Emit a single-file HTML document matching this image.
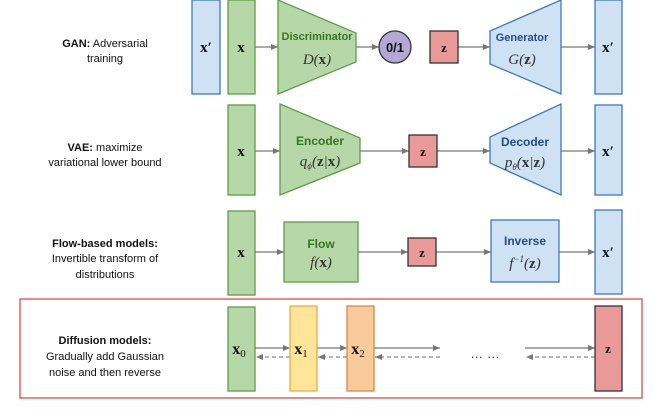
<!DOCTYPE html>
<html><head><meta charset="utf-8"><style>
body{margin:0;background:#fff;width:653px;height:408px;overflow:hidden}
svg text{font-family:"Liberation Sans",sans-serif}
svg .m, svg .m text, svg text.m{font-family:"Liberation Serif",serif}
</style></head><body>
<svg width="653" height="408" viewBox="0 0 653 408" xmlns="http://www.w3.org/2000/svg">
<defs>
<marker id="a" markerWidth="8" markerHeight="8" refX="7" refY="4" orient="auto" markerUnits="userSpaceOnUse"><path d="M0,1 L7,4 L0,7z" fill="#777"/></marker>
</defs>
<g font-size="11" fill="#111" text-anchor="middle">
<text x="105" y="47"><tspan font-weight="bold">GAN:</tspan> Adversarial</text>
<text x="105" y="62">training</text>
<text x="105" y="151"><tspan font-weight="bold">VAE:</tspan> maximize</text>
<text x="105" y="166">variational lower bound</text>
<text x="105" y="247" font-weight="bold">Flow-based models:</text>
<text x="105" y="262">Invertible transform of</text>
<text x="105" y="278">distributions</text>
<text x="105" y="344" font-weight="bold">Diffusion models:</text>
<text x="105" y="360">Gradually add Gaussian</text>
<text x="105" y="376">noise and then reverse</text>
</g>
<g stroke="#777" stroke-width="1.2" marker-end="url(#a)">
<line x1="255" y1="47" x2="278" y2="47"/><line x1="356" y1="47" x2="379" y2="47"/>
<line x1="458" y1="47" x2="490" y2="47"/><line x1="561" y1="47" x2="595" y2="47"/>
<line x1="255" y1="151" x2="280" y2="151"/><line x1="360" y1="151" x2="409" y2="151"/>
<line x1="437" y1="151" x2="490" y2="151"/><line x1="561" y1="151" x2="595" y2="151"/>
<line x1="255" y1="252" x2="284" y2="252"/><line x1="358" y1="252" x2="408" y2="252"/>
<line x1="436" y1="252" x2="491" y2="252"/><line x1="559" y1="252" x2="595" y2="252"/>
<line x1="255" y1="348" x2="290" y2="348"/><line x1="317" y1="348" x2="347" y2="348"/>
<line x1="374" y1="348" x2="440" y2="348"/><line x1="525" y1="348" x2="595" y2="348"/>
</g>
<g stroke="#888" stroke-width="1.2" stroke-dasharray="4,3" marker-end="url(#a)">
<line x1="290" y1="357" x2="256" y2="357"/><line x1="347" y1="357" x2="318" y2="357"/>
<line x1="440" y1="357" x2="375" y2="357"/><line x1="595" y1="357" x2="526" y2="357"/>
</g>
<rect x="192" y="0" width="28" height="94" fill="#cfe2f3" stroke="#3d78c1" stroke-width="1.3"/>
<rect x="228" y="0" width="27" height="94" fill="#b6d7a8" stroke="#5c9e48" stroke-width="1.3"/>
<polygon points="278,0 356,33 356,62 278,94" fill="#b6d7a8" stroke="#5c9e48" stroke-width="1.3"/>
<circle cx="395" cy="47" r="16" fill="#b4a7d6" stroke="#333" stroke-width="1.3"/>
<rect x="430" y="31" width="28" height="32" fill="#ea9999" stroke="#333" stroke-width="1.3"/>
<polygon points="490,31 561,0 561,94 490,64" fill="#cfe2f3" stroke="#3d78c1" stroke-width="1.3"/>
<rect x="595" y="0" width="27" height="94" fill="#cfe2f3" stroke="#3d78c1" stroke-width="1.3"/>
<rect x="228" y="105" width="27" height="90" fill="#b6d7a8" stroke="#5c9e48" stroke-width="1.3"/>
<polygon points="280,104 360,138 360,163 280,195" fill="#b6d7a8" stroke="#5c9e48" stroke-width="1.3"/>
<rect x="409" y="135" width="28" height="32" fill="#ea9999" stroke="#333" stroke-width="1.3"/>
<polygon points="490,137 561,104 561,195 490,163" fill="#cfe2f3" stroke="#3d78c1" stroke-width="1.3"/>
<rect x="595" y="105" width="27" height="90" fill="#cfe2f3" stroke="#3d78c1" stroke-width="1.3"/>
<rect x="228" y="211" width="27" height="84" fill="#b6d7a8" stroke="#5c9e48" stroke-width="1.3"/>
<rect x="284" y="222" width="74" height="60" fill="#b6d7a8" stroke="#5c9e48" stroke-width="1.3"/>
<rect x="408" y="238" width="28" height="28" fill="#ea9999" stroke="#333" stroke-width="1.3"/>
<rect x="491" y="220" width="68" height="62" fill="#cfe2f3" stroke="#3d78c1" stroke-width="1.3"/>
<rect x="595" y="210" width="27" height="84" fill="#cfe2f3" stroke="#3d78c1" stroke-width="1.3"/>
<rect x="20" y="299" width="622" height="99" fill="none" stroke="#e04848" stroke-width="1.3"/>
<rect x="228" y="307" width="27" height="84" fill="#b6d7a8" stroke="#5c9e48" stroke-width="1.3"/>
<rect x="290" y="306" width="27" height="85" fill="#ffe599" stroke="#e6b040" stroke-width="1.3"/>
<rect x="347" y="306" width="27" height="85" fill="#f9cb9c" stroke="#d9884a" stroke-width="1.3"/>
<rect x="595" y="306" width="27" height="85" fill="#ea9999" stroke="#333" stroke-width="1.3"/>
<g class="m" text-anchor="middle" fill="#111" font-weight="bold">
<text x="206" y="52" font-size="15">x′</text>
<text x="241" y="52" font-size="15">x</text>
<text x="444" y="52" font-size="13">z</text>
<text x="608" y="52" font-size="15">x′</text>
<text x="241" y="156" font-size="15">x</text>
<text x="423" y="156" font-size="13">z</text>
<text x="608" y="156" font-size="15">x′</text>
<text x="241" y="257" font-size="15">x</text>
<text x="422" y="257" font-size="13">z</text>
<text x="608" y="257" font-size="15">x′</text>
<text x="239" y="354" font-size="16">x<tspan font-size="11" font-weight="normal" dy="3">0</tspan></text>
<text x="301" y="354" font-size="16">x<tspan font-size="11" font-weight="normal" dy="3">1</tspan></text>
<text x="358" y="354" font-size="16">x<tspan font-size="11" font-weight="normal" dy="3">2</tspan></text>
<text x="608" y="353" font-size="13">z</text>
</g>
<text x="395" y="52" font-size="13" font-weight="bold" text-anchor="middle" fill="#111">0/1</text>
<text x="485" y="358" font-size="13" text-anchor="middle" fill="#333">… …</text>
<g text-anchor="middle" font-weight="bold" font-size="11">
<text x="317" y="40" fill="#38761d">Discriminator</text>
<text x="522" y="41" fill="#1f4e8c">Generator</text>
<text x="320" y="145" font-size="12" fill="#38761d">Encoder</text>
<text x="525" y="146" font-size="12" fill="#1f4e8c">Decoder</text>
<text x="321" y="248" font-size="12" fill="#38761d">Flow</text>
<text x="525" y="245" font-size="12" fill="#1f4e8c">Inverse</text>
</g>
<g class="m" text-anchor="middle" font-size="15" font-style="italic" fill="#333">
<text x="317" y="64">D(<tspan font-style="normal" font-weight="bold">x</tspan>)</text>
<text x="522" y="64">G(<tspan font-style="normal" font-weight="bold">z</tspan>)</text>
<text x="320" y="166">q<tspan font-size="9" dy="3">ϕ</tspan><tspan dy="-3">(</tspan><tspan font-style="normal" font-weight="bold">z</tspan>|<tspan font-style="normal" font-weight="bold">x</tspan>)</text>
<text x="525" y="167">p<tspan font-size="9" dy="3">θ</tspan><tspan dy="-3">(</tspan><tspan font-style="normal" font-weight="bold">x</tspan>|<tspan font-style="normal" font-weight="bold">z</tspan>)</text>
<text x="321" y="267">f(<tspan font-style="normal" font-weight="bold">x</tspan>)</text>
<text x="525" y="268">f<tspan font-size="9" dy="-6">−1</tspan><tspan dy="6">(</tspan><tspan font-style="normal" font-weight="bold">z</tspan>)</text>
</g>
</svg>
</body></html>
